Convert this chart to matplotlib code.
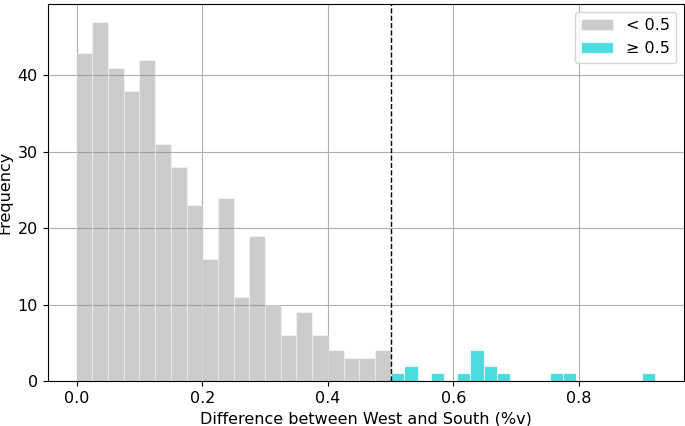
import numpy as np
import matplotlib.pyplot as plt

# counts
low_edges_start, low_edges_stop, low_n_bins = 0.0, 0.5, 20
low_counts = [43, 47, 41, 38, 42, 31, 28, 23, 16, 24,
              11, 19, 10, 6, 9, 6, 4, 3, 3, 4]

high_edges_start, high_edges_stop, high_n_bins = 0.501, 0.921, 20
high_counts = [1, 2, 0, 1, 0, 1, 4, 2, 1, 0,
               0, 0, 1, 1, 0, 0, 0, 0, 0, 1]

threshold = 0.5

font_size = 11.5

fig = plt.figure(figsize=(6.85, 4.26), dpi=100)
ax = fig.add_axes([0.0696, 0.1056, 0.929, 0.885])

low_bins = np.linspace(low_edges_start, low_edges_stop, low_n_bins + 1)
high_bins = np.linspace(high_edges_start, high_edges_stop, high_n_bins + 1)
low_centers = (low_bins[:-1] + low_bins[1:]) / 2
high_centers = (high_bins[:-1] + high_bins[1:]) / 2

ax.hist(low_centers, bins=low_bins, weights=low_counts, color='gray', alpha=0.4,
        edgecolor='white', linewidth=0.8, label='< 0.5')
ax.hist(high_centers, bins=high_bins, weights=high_counts, color='darkturquoise', alpha=0.7,
        edgecolor='white', linewidth=0.8, label='≥ 0.5')
ax.axvline(threshold, color='black', linestyle='--', linewidth=1)

ax.set_axisbelow(True)
ax.grid(True)
ax.set_yticks([0, 10, 20, 30, 40])
ax.set_xlabel("Difference between West and South (%v)", fontsize=font_size)
ax.set_ylabel("Frequency", fontsize=font_size)
ax.tick_params(labelsize=font_size)
ax.legend(loc='upper right', fontsize=font_size)

plt.savefig("out.png", dpi=100)
